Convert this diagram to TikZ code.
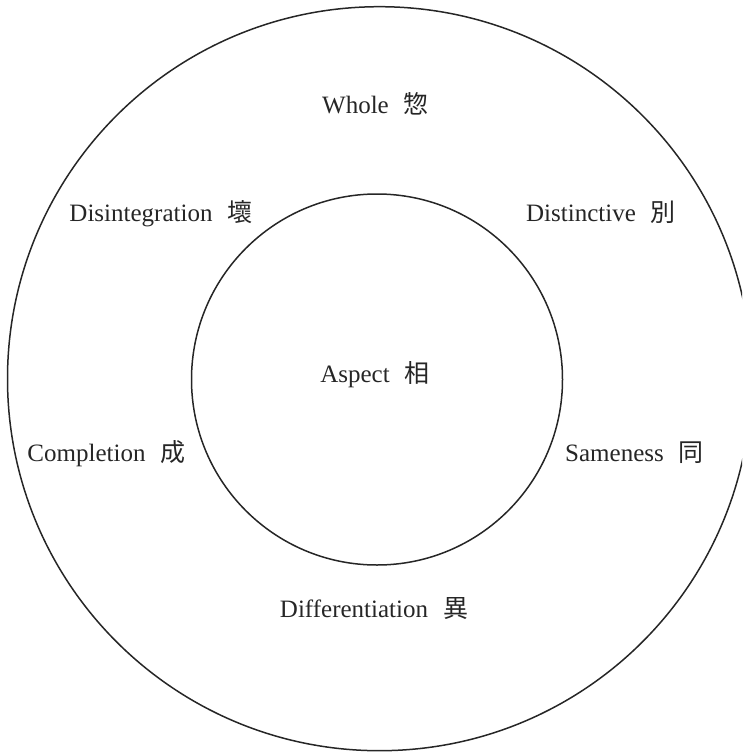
\documentclass[tikz,border=0pt]{standalone}
\usepackage{fontspec}
\setmainfont{Liberation Serif}
\newfontfamily\cjk{Noto Sans CJK JP}
\tikzset{
  ring/.style={draw=black!85, line width=1.5pt},
  lbl/.style={anchor=base, inner sep=0pt, font=\fontsize{25}{29}\selectfont, text=black!85}
}
\newcommand{\gapcj}{\hspace{0.6em}}
\begin{document}
\begin{tikzpicture}[x=1pt,y=-1pt]
\useasboundingbox (0,0) rectangle (742,755);
\begin{scope}
\clip (0,0) rectangle (742,755);
\draw[ring] (379.5,378.7) circle[radius=372];
\end{scope}
\draw[ring] (377,379.5) circle[radius=185.5];
\node[lbl] (whole) at (375.5,113) {Whole\gapcj{\cjk 惣}};
\node[lbl] (disint) at (161,221) {Disintegration\gapcj{\cjk 壞}};
\node[lbl] (distinct) at (601,221) {Distinctive\gapcj{\cjk 別}};
\node[lbl] (aspect) at (375,382) {Aspect\gapcj{\cjk 相}};
\node[lbl] (compl) at (106.5,461) {Completion\gapcj{\cjk 成}};
\node[lbl] (same) at (634.5,461) {Sameness\gapcj{\cjk 同}};
\node[lbl] (diff) at (374,617) {Differentiation\gapcj{\cjk 異}};
\end{tikzpicture}
\end{document}
